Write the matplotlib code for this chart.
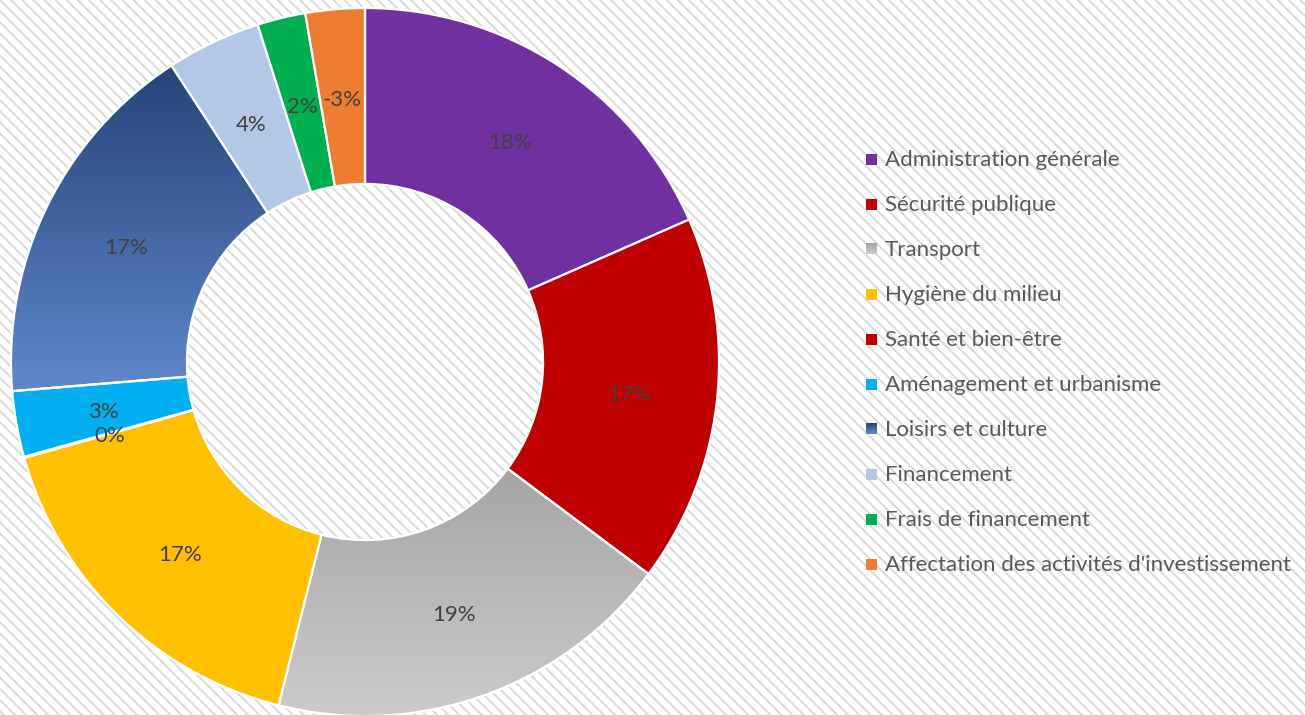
import numpy as np
import matplotlib.pyplot as plt
from matplotlib.patches import Rectangle
from matplotlib.colors import LinearSegmentedColormap

plt.rcParams['font.family'] = ['Lato', 'DejaVu Sans']
plt.rcParams['hatch.linewidth'] = 1.4

# data (share of total, in %)
categories = ['Administration générale', 'Sécurité publique', 'Transport',
              'Hygiène du milieu', 'Santé et bien-être', 'Aménagement et urbanisme',
              'Loisirs et culture', 'Financement', 'Frais de financement',
              "Affectation des activités d'investissement"]
shares = [18.4, 16.8, 18.7, 16.7, 0.05, 3.0, 17.1, 4.3, 2.2, -2.7]

colors = ['#7030A0', '#C00000', '#B7B7B7', '#FFC000', '#C00000', '#00B0F0',
          '#3F5F9E', '#B4C7E7', '#00B050', '#ED7D31']
gradients = {2: ('#A5A5A5', '#CBCBCB'), 6: ('#264478', '#5F88CC')}

W, H = 1305, 715
fig = plt.figure(figsize=(W / 100, H / 100), dpi=100)
fig.patch.set_facecolor('white')
fig.patches.append(Rectangle((0, 0), 1, 1, transform=fig.transFigure, facecolor='white',
                             edgecolor='#D9D9D9', hatch='\\\\\\', linewidth=0, zorder=-5))

cx, cy, R = 365, 362, 354
ax = fig.add_axes([(cx - R) / W, (H - cy - R) / H, 2 * R / W, 2 * R / H])
ax.patch.set_visible(False)

wedges, _ = ax.pie(np.abs(shares), startangle=90, counterclock=False, radius=1,
                   colors=colors, wedgeprops=dict(width=0.497, edgecolor='white', linewidth=1.6))

for i, (c1, c2) in gradients.items():
    w = wedges[i]
    ext = w.get_path().get_extents()
    cmap = LinearSegmentedColormap.from_list('g%d' % i, [c1, c2])
    grad = np.linspace(0, 1, 256).reshape(-1, 1)
    im = ax.imshow(grad, cmap=cmap, aspect='auto', origin='upper',
                   extent=(ext.x0, ext.x1, ext.y0, ext.y1), zorder=0.9)
    im.set_clip_path(w)
    w.set_facecolor('none')

for w, v in zip(wedges, shares):
    mid = np.deg2rad((w.theta1 + w.theta2) / 2)
    ax.text(0.75 * np.cos(mid), 0.75 * np.sin(mid) - 0.008, '%d%%' % round(v),
            ha='center', va='center', fontsize=16, color='#404040', zorder=3)

ax.set_xlim(-1, 1)
ax.set_ylim(-1, 1)
ax.set_aspect('equal')
ax.axis('off')

# legend
lg = fig.add_axes([0, 0, 1, 1])
lg.set_xlim(0, W)
lg.set_ylim(H, 0)
lg.axis('off')
lg.patch.set_visible(False)
for i, name in enumerate(categories):
    y = 159 + 45 * i
    if i in gradients:
        cmap = LinearSegmentedColormap.from_list('l%d' % i, list(gradients[i]))
        lg.imshow(np.linspace(0, 1, 32).reshape(-1, 1), cmap=cmap, aspect='auto',
                  extent=(866, 877, y + 5.5, y - 5.5))
    else:
        lg.add_patch(Rectangle((866, y - 5.5), 11, 11, facecolor=colors[i], linewidth=0))
    lg.text(885, y + 1, name, ha='left', va='center', fontsize=16, color='#595959')
lg.set_xlim(0, W)
lg.set_ylim(H, 0)

fig.savefig('out.png', dpi=100)
